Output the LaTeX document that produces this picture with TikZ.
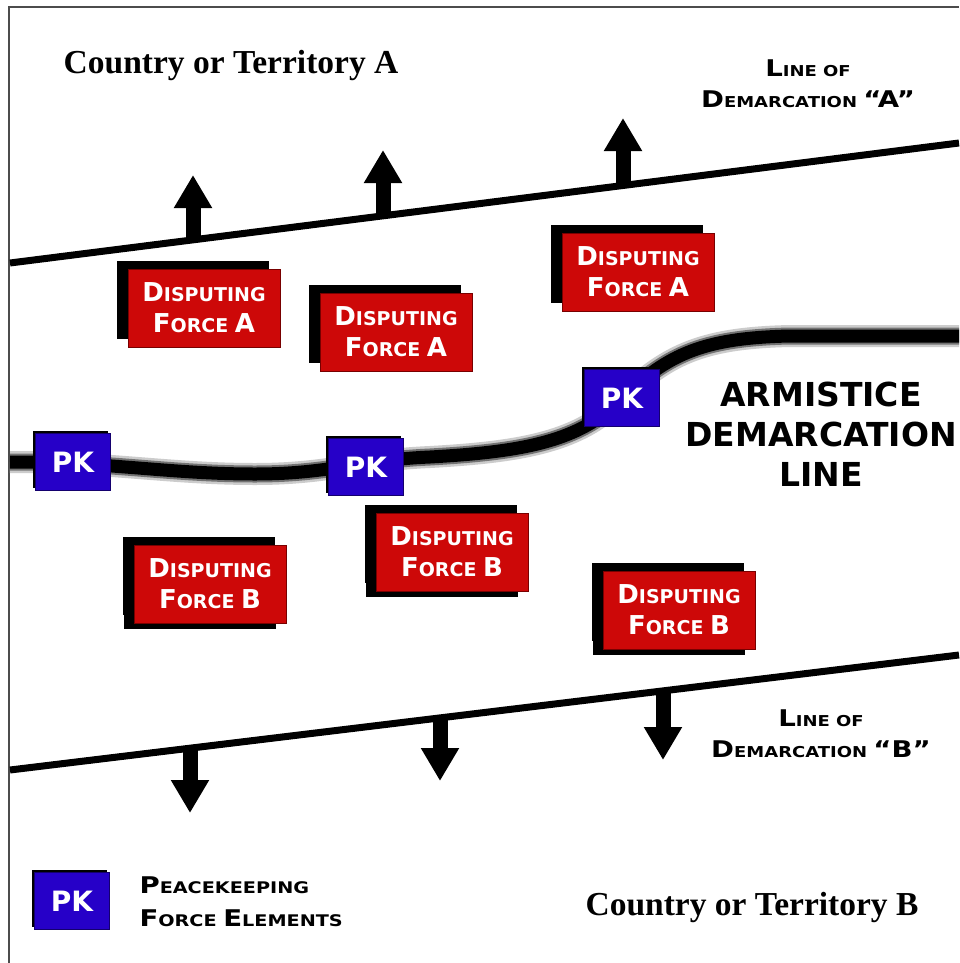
\documentclass[tikz,border=0pt]{standalone}
\usepackage{fontspec}
\setmainfont{Liberation Serif}
\newfontfamily\heavy{DejaVu Sans}[BoldFont={DejaVu Sans Bold}]
\newfontfamily\heavyw{DejaVu Sans}[BoldFont={DejaVu Sans Bold},BoldFeatures={FakeStretch=1.2}]
\usetikzlibrary{shadows,arrows.meta,calc}
\definecolor{fred}{RGB}{205,8,8}
\definecolor{fredd}{RGB}{120,0,0}
\definecolor{fblue}{RGB}{38,0,200}
\definecolor{fblued}{RGB}{20,0,110}
\newcommand\capL[2]{{\fontsize{#1}{#1}\selectfont #2}}
\newcommand\dsp{\capL{26}{D}ISPUTING}
\begin{document}
\begin{tikzpicture}[x=1pt,y=-1pt,
  redbox/.style={fill=fred,draw=fredd,line width=1pt,minimum width=152pt,minimum height=78pt,inner sep=0pt,
    text=white,align=center,font=\heavy\bfseries\fontsize{19}{31}\selectfont,
    drop shadow={shadow xshift=-11pt,shadow yshift=8pt,fill=black,opacity=1}},
  redboxb/.style={redbox,drop shadow={shadow xshift=-10pt,shadow yshift=-6pt,fill=black,opacity=1}},
  pkbox/.style={fill=fblue,draw=fblued,line width=1pt,minimum width=75pt,minimum height=57pt,inner sep=0pt,
    text=white,font=\heavy\bfseries\fontsize{28}{28}\selectfont,
    drop shadow={shadow xshift=-3pt,shadow yshift=3pt,fill=black,opacity=1}},
  demline/.style={line width=7pt,black},
  blockarrow/.style={line width=15pt,black,-{Triangle[width=36pt,length=33pt]}},
  country/.style={font=\fontsize{33.5}{40}\selectfont\bfseries,anchor=base},
  smallcap/.style={font=\heavyw\bfseries\fontsize{15}{31}\selectfont,align=center},
]
\useasboundingbox (0,0) rectangle (959,963);
\fill[white] (0,0) rectangle (959,963);
% frame
\draw[black!70,line width=1.5pt] (9,963) -- (9,7) -- (959,7);

% demarcation lines
\coordinate (laL) at (10,263);
\coordinate (laR) at (959,143);
\coordinate (lbL) at (10,770);
\coordinate (lbR) at (959,655);
\draw[demline] (laL) -- (laR);
\draw[demline] (lbL) -- (lbR);

% arrows A (up)
\coordinate (a1) at (193,241);
\coordinate (a1t) at (193,175);
\coordinate (a2) at (383,217);
\coordinate (a2t) at (383,150);
\coordinate (a3) at (623,186);
\coordinate (a3t) at (623,118);
\draw[blockarrow] (a1) -- (a1t);
\draw[blockarrow] (a2) -- (a2t);
\draw[blockarrow] (a3) -- (a3t);
% arrows B (down)
\coordinate (b1) at (190,746);
\coordinate (b1t) at (190,813);
\coordinate (b2) at (440,716);
\coordinate (b2t) at (440,781);
\coordinate (b3) at (663,689);
\coordinate (b3t) at (663,760);
\draw[blockarrow] (b1) -- (b1t);
\draw[blockarrow] (b2) -- (b2t);
\draw[blockarrow] (b3) -- (b3t);

% armistice line
\coordinate (arL) at (10,462);
\coordinate (arR) at (959,336);
\foreach \w/\c in {22/black!20,17/black!55,13/black}{
\draw[line width=\w pt,\c] (arL) .. controls (110,462) and (170,474) .. (255,474)
  .. controls (330,474) and (360,460) .. (430,457)
  .. controls (520,452) and (575,442) .. (615,405)
  .. controls (665,355) and (700,338) .. (790,336) -- (arR);
}

% texts
\node[country] (ctA) at (231,74) {Country or Territory A};
\node[country] (ctB) at (752,915) {Country or Territory B};
\node[smallcap] (ldA) at (808,84) {\capL{23}{L}INE OF\\\capL{23}{D}EMARCATION \capL{23}{“A”}};
\node[smallcap] (ldB) at (821,734) {\capL{23}{L}INE OF\\\capL{23}{D}EMARCATION \capL{23}{“B”}};
\node[font=\heavy\bfseries\fontsize{33}{40}\selectfont,align=center] (adl) at (821,434) {ARMISTICE\\DEMARCATION\\LINE};

% disputing forces
\node[redbox] (fa1) at (204,308) {\dsp\\\capL{26}{F}ORCE \capL{26}{A}};
\node[redbox] (fa2) at (396,332) {\dsp\\\capL{26}{F}ORCE \capL{26}{A}};
\node[redbox] (fa3) at (638,272) {\dsp\\\capL{26}{F}ORCE \capL{26}{A}};
\node[redboxb] (fb1) at (210,584) {\dsp\\\capL{26}{F}ORCE \capL{26}{B}};
\node[redboxb] (fb2) at (452,552) {\dsp\\\capL{26}{F}ORCE \capL{26}{B}};
\node[redboxb] (fb3) at (679,610) {\dsp\\\capL{26}{F}ORCE \capL{26}{B}};

% peacekeepers
\node[pkbox] (pk1) at (73,462) {PK};
\node[pkbox] (pk2) at (366,467) {PK};
\node[pkbox] (pk3) at (622,398) {PK};

% legend
\node[pkbox] (pkl) at (72,901) {PK};
\node[font=\heavyw\bfseries\fontsize{16}{33}\selectfont,align=left,anchor=west] (legt) at (136,902)
  {\capL{23}{P}EACEKEEPING\\\capL{23}{F}ORCE \capL{23}{E}LEMENTS};
\end{tikzpicture}
\end{document}
